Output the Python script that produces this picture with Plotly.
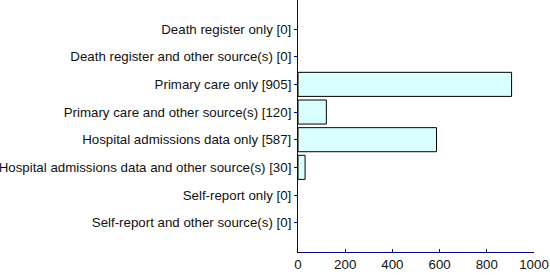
import plotly.graph_objects as go

names = [
    "Death register only",
    "Death register and other source(s)",
    "Primary care only",
    "Primary care and other source(s)",
    "Hospital admissions data only",
    "Hospital admissions data and other source(s)",
    "Self-report only",
    "Self-report and other source(s)",
]
counts = [0, 0, 905, 120, 587, 30, 0, 0]
x_ticks = [0, 200, 400, 600, 800, 1000]

labels = [f"{n} [{c}]" for n, c in zip(names, counts)]
outline_widths = [1 if c > 0 else 0 for c in counts]

fig = go.Figure(
    go.Bar(
        x=counts,
        y=labels,
        orientation="h",
        width=0.87,
        marker=dict(color="#D9FFFF", line=dict(color="black", width=outline_widths)),
    )
)

fig.update_layout(
    width=550,
    height=276,
    margin=dict(l=298, r=16, t=0, b=24),
    paper_bgcolor="white",
    plot_bgcolor="white",
    font=dict(family="Liberation Sans, Arial, sans-serif", size=13.3, color="#111"),
    showlegend=False,
)
fig.update_yaxes(
    type="category",
    range=[8.06, -1.05],
    showline=True,
    linecolor="#000080",
    linewidth=1,
    ticks="outside",
    ticklen=3,
    tickcolor="#000080",
    showgrid=False,
    zeroline=False,
)
fig.update_xaxes(
    range=[0, 1000],
    tickvals=x_ticks,
    showline=True,
    linecolor="#000080",
    linewidth=1,
    ticks="inside",
    ticklen=3,
    tickcolor="#000080",
    showgrid=False,
    zeroline=False,
)

fig.write_html("out.html")
